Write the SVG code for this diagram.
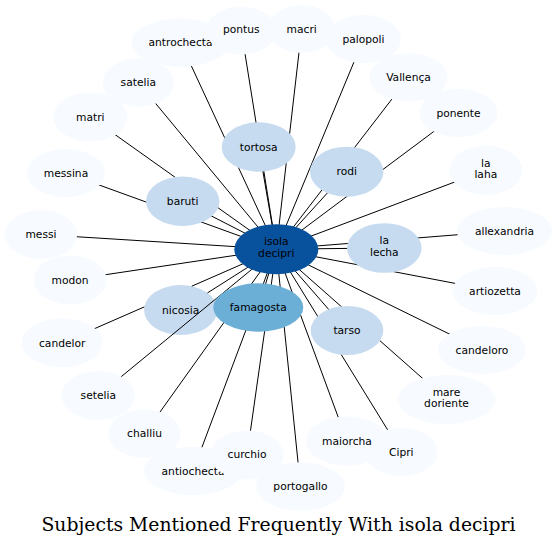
<svg xmlns="http://www.w3.org/2000/svg" width="557" height="546" viewBox="0 0 557 546">
<style>
.n0{fill:#f7fbff}
.n1{fill:#c6dbef}
.n2{fill:#6baed6}
.n3{fill:#08519c}
text{font-family:"DejaVu Sans",sans-serif;font-size:10.7px;fill:#000;text-anchor:middle}
.edges line{stroke:#000;stroke-width:1}
.title{font-family:"DejaVu Serif",serif;font-size:18.8px}
</style>
<rect width="557" height="546" fill="#fff"/>
<g id="node-nicosia"><ellipse class="n1" cx="180.7" cy="310" rx="36.7" ry="25"/><text x="180.7" y="313.7">nicosia</text></g>
<g id="edges" class="edges">
<line x1="276.3" y1="249.2" x2="258.7" y2="147"/>
<line x1="276.3" y1="249.2" x2="346.7" y2="171.7"/>
<line x1="276.3" y1="249.2" x2="182.7" y2="201.3"/>
<line x1="276.3" y1="249.2" x2="384.3" y2="248"/>
<line x1="276.3" y1="249.2" x2="207.5" y2="292.9"/>
<line x1="276.3" y1="249.2" x2="347" y2="330.5"/>
<line x1="276.3" y1="249.2" x2="258.3" y2="307.5"/>
<line x1="276.3" y1="249.2" x2="180.5" y2="42.5"/>
<line x1="276.3" y1="249.2" x2="241.3" y2="30.5"/>
<line x1="276.3" y1="249.2" x2="301.7" y2="29"/>
<line x1="276.3" y1="249.2" x2="363.5" y2="39"/>
<line x1="276.3" y1="249.2" x2="408.5" y2="77.5"/>
<line x1="276.3" y1="249.2" x2="458.5" y2="113"/>
<line x1="276.3" y1="249.2" x2="485.8" y2="170.3"/>
<line x1="276.3" y1="249.2" x2="504.5" y2="231"/>
<line x1="276.3" y1="249.2" x2="495" y2="291"/>
<line x1="276.3" y1="249.2" x2="482" y2="350"/>
<line x1="276.3" y1="249.2" x2="446.5" y2="399.5"/>
<line x1="276.3" y1="249.2" x2="401.3" y2="452"/>
<line x1="276.3" y1="249.2" x2="347" y2="441"/>
<line x1="276.3" y1="249.2" x2="300.5" y2="486.5"/>
<line x1="276.3" y1="249.2" x2="247" y2="455"/>
<line x1="276.3" y1="249.2" x2="193" y2="471"/>
<line x1="276.3" y1="249.2" x2="144.5" y2="433.7"/>
<line x1="276.3" y1="249.2" x2="98.3" y2="395.5"/>
<line x1="276.3" y1="249.2" x2="191.75" y2="286.2"/>
<line x1="144.3" y1="306.9" x2="62.2" y2="342.8"/>
<line x1="276.3" y1="249.2" x2="70" y2="280"/>
<line x1="276.3" y1="249.2" x2="41" y2="234.5"/>
<line x1="276.3" y1="249.2" x2="66" y2="173"/>
<line x1="276.3" y1="249.2" x2="90.3" y2="117"/>
<line x1="276.3" y1="249.2" x2="138.3" y2="82.5"/>
</g>
<g id="node-antrochecta"><ellipse class="n0" cx="180.5" cy="42.5" rx="49" ry="24.2"/><text x="180.5" y="46.2">antrochecta</text></g>
<g id="node-macri"><ellipse class="n0" cx="301.7" cy="29" rx="33.5" ry="24"/><text x="301.7" y="32.7">macri</text></g>
<g id="node-pontus"><ellipse class="n0" cx="241.3" cy="30.5" rx="35" ry="24"/><text x="241.3" y="33.2">pontus</text></g>
<g id="node-palopoli"><ellipse class="n0" cx="363.5" cy="39" rx="37.5" ry="24.2"/><text x="363.5" y="42.7">palopoli</text></g>
<g id="node-vallenca"><ellipse class="n0" cx="408.5" cy="77.5" rx="39" ry="24.2"/><text x="408.5" y="81.2">Vallença</text></g>
<g id="node-ponente"><ellipse class="n0" cx="458.5" cy="113" rx="39" ry="24.2"/><text x="458.5" y="116.7">ponente</text></g>
<g id="node-lalaha"><ellipse class="n0" cx="485.8" cy="170.3" rx="36.5" ry="24.7"/><text x="485.8" y="166.5">la</text><text x="485.8" y="178">laha</text></g>
<g id="node-allexandria"><ellipse class="n0" cx="504.5" cy="231" rx="47.5" ry="24"/><text x="504.5" y="234.7">allexandria</text></g>
<g id="node-artiozetta"><ellipse class="n0" cx="495" cy="291" rx="42.3" ry="24.2"/><text x="495" y="294.7">artiozetta</text></g>
<g id="node-candeloro"><ellipse class="n0" cx="482" cy="350" rx="44" ry="24"/><text x="482" y="353.7">candeloro</text></g>
<g id="node-maredoriente"><ellipse class="n0" cx="446.5" cy="399.5" rx="48.5" ry="24.5"/><text x="446.5" y="395.7">mare</text><text x="446.5" y="407.2">doriente</text></g>
<g id="node-cipri"><ellipse class="n0" cx="401.3" cy="452" rx="36.3" ry="24.2"/><text x="401.3" y="455.7">Cipri</text></g>
<g id="node-maiorcha"><ellipse class="n0" cx="347" cy="441" rx="41.3" ry="24.5"/><text x="347" y="444.7">maiorcha</text></g>
<g id="node-portogallo"><ellipse class="n0" cx="300.5" cy="486.5" rx="44.5" ry="24.2"/><text x="300.5" y="490.2">portogallo</text></g>
<g id="node-antiochecta"><ellipse class="n0" cx="193" cy="471" rx="49" ry="24.2"/><text x="193" y="474.7">antiochecta</text></g>
<g id="node-curchio"><ellipse class="n0" cx="247" cy="455" rx="36.5" ry="24.5"/><text x="247" y="457.7">curchio</text></g>
<g id="node-challiu"><ellipse class="n0" cx="144.5" cy="433.7" rx="36.2" ry="24.3"/><text x="144.5" y="437.4">challiu</text></g>
<g id="node-setelia"><ellipse class="n0" cx="98.3" cy="395.5" rx="36.7" ry="24.5"/><text x="98.3" y="399.2">setelia</text></g>
<g id="node-candelor"><ellipse class="n0" cx="62.2" cy="342.8" rx="40.5" ry="24.5"/><text x="62.2" y="346.5">candelor</text></g>
<g id="node-modon"><ellipse class="n0" cx="70" cy="280" rx="36.7" ry="24.3"/><text x="70" y="283.7">modon</text></g>
<g id="node-messi"><ellipse class="n0" cx="41" cy="234.5" rx="36.2" ry="24.5"/><text x="41" y="238.2">messi</text></g>
<g id="node-messina"><ellipse class="n0" cx="66" cy="173" rx="39" ry="24.2"/><text x="66" y="176.7">messina</text></g>
<g id="node-matri"><ellipse class="n0" cx="90.3" cy="117" rx="37" ry="24.5"/><text x="90.3" y="120.7">matri</text></g>
<g id="node-satelia"><ellipse class="n0" cx="138.3" cy="82.5" rx="35.7" ry="24.2"/><text x="138.3" y="86.2">satelia</text></g>
<g id="node-tortosa"><ellipse class="n1" cx="258.7" cy="147" rx="37" ry="24.7"/><text x="258.7" y="150.7">tortosa</text></g>
<g id="node-rodi"><ellipse class="n1" cx="346.7" cy="171.7" rx="36.7" ry="25"/><text x="346.7" y="175.4">rodi</text></g>
<g id="node-baruti"><ellipse class="n1" cx="182.7" cy="201.3" rx="36.7" ry="24.7"/><text x="182.7" y="205">baruti</text></g>
<g id="node-lalecha"><ellipse class="n1" cx="384.3" cy="248" rx="37.3" ry="24.8"/><text x="384.3" y="244.2">la</text><text x="384.3" y="255.7">lecha</text></g>
<g id="node-tarso"><ellipse class="n1" cx="347" cy="330.5" rx="36.3" ry="24.5"/><text x="347" y="334.2">tarso</text></g>
<g id="node-famagosta"><ellipse class="n2" cx="258.3" cy="307.5" rx="45" ry="24.2"/><text x="258.3" y="311.2">famagosta</text></g>
<g id="node-isoladecipri"><ellipse class="n3" cx="276.3" cy="249.2" rx="42" ry="25"/><text x="276.3" y="245.4">isola</text><text x="276.3" y="256.9">decipri</text></g>
<text class="title" x="278.5" y="531">Subjects Mentioned Frequently With isola decipri</text>
</svg>
